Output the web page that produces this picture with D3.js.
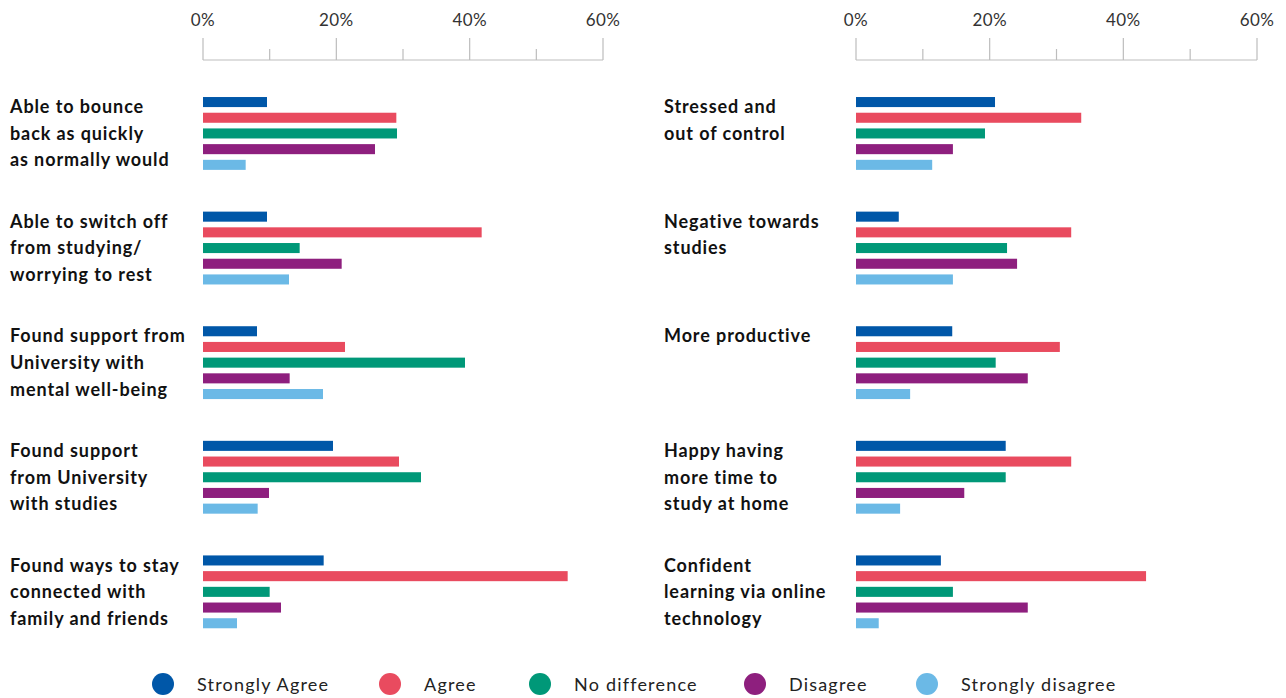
<!DOCTYPE html>
<html><head><meta charset="utf-8">
<script src="https://cdn.jsdelivr.net/npm/d3@7"></script>
<style>body{margin:0;background:#fff}svg{display:block}</style>
</head><body><svg id="c" width="1286" height="698"></svg>
<script>
const series = ["Strongly Agree","Agree","No difference","Disagree","Strongly disagree"];
const colors = ["#0057a8","#e94b5f","#009878","#8e1f7e","#6bb9e6"];
const tickValues = [0,10,20,30,40,50,60];
const tickLabels = ["0%","","20%","","40%","","60%"];

const leftCategories = [
  ["Able to bounce","back as quickly","as normally would"],
  ["Able to switch off","from studying/","worrying to rest"],
  ["Found support from","University with","mental well-being"],
  ["Found support","from University","with studies"],
  ["Found ways to stay","connected with","family and friends"]
];
const leftValues = [
  [9.6,29.0,29.1,25.8,6.4],
  [9.6,41.8,14.5,20.8,12.9],
  [8.1,21.3,39.3,13.0,18.0],
  [19.5,29.4,32.7,9.9,8.2],
  [18.1,54.7,10.0,11.7,5.1]
];
const rightCategories = [
  ["Stressed and","out of control"],
  ["Negative towards","studies"],
  ["More productive"],
  ["Happy having","more time to","study at home"],
  ["Confident","learning via online","technology"]
];
const rightValues = [
  [20.8,33.7,19.3,14.5,11.4],
  [6.4,32.2,22.6,24.1,14.5],
  [14.4,30.5,20.9,25.7,8.1],
  [22.4,32.2,22.4,16.2,6.6],
  [12.7,43.4,14.5,25.7,3.4]
];

const svg = d3.select("#c");
const font = "Lato, 'Open Sans', sans-serif";

const yGroup = d3.scaleBand().domain(d3.range(5)).range([94.2, 94.2 + 5*114.6]);
const yInner = d3.scaleBand().domain(series).range([0, 78.5]).paddingInner(0.36).paddingOuter(0.18);

function panel(cats, vals, x0, x1, labelX) {
  const x = d3.scaleLinear().domain([0,60]).range([x0, x1]);
  const g = svg.append("g");
  const ax = g.append("g").attr("transform","translate(0,60)");
  ax.append("line").attr("x1", x(0)).attr("x2", x(60)).attr("stroke","#bdbdbd").attr("stroke-width",1.2);
  ax.selectAll("line.t").data(tickValues).join("line").attr("class","t")
    .attr("x1", d=>x(d)).attr("x2", d=>x(d))
    .attr("y1", (d,i)=> i%2===0 ? -22 : -11).attr("y2", 0)
    .attr("stroke","#bdbdbd").attr("stroke-width",1.2);
  ax.selectAll("text").data(tickValues.filter((d,i)=>tickLabels[i])).join("text")
    .attr("x", d=>x(d)).attr("y", -34)
    .attr("text-anchor","middle").attr("font-family",font).attr("font-size",17)
    .attr("letter-spacing",0.4)
    .attr("fill","#333").text(d=>tickLabels[tickValues.indexOf(d)]);
  cats.forEach((lines, gi) => {
    const gy = yGroup(gi);
    g.selectAll(null).data(vals[gi]).join("rect")
      .attr("x", x(0)).attr("y", (d,i)=> gy + yInner(series[i]))
      .attr("width", d=> x(d) - x(0)).attr("height", yInner.bandwidth())
      .attr("fill", (d,i)=>colors[i]);
    const t = g.append("text").attr("font-family",font).attr("font-weight",700)
      .attr("font-size",18).attr("letter-spacing",0.9).attr("fill","#111");
    lines.forEach((ln, li) => {
      t.append("tspan").attr("x", labelX).attr("y", gy + 19 + li*26.6).text(ln);
    });
  });
}
panel(leftCategories, leftValues, 203, 603, 10);
panel(rightCategories, rightValues, 856, 1257, 664);

const legX = [163, 390, 540, 755, 927];
const leg = svg.append("g").attr("transform","translate(0,684)");
series.forEach((s,i)=>{
  leg.append("circle").attr("cx", legX[i]).attr("cy",0).attr("r",11).attr("fill",colors[i]);
  leg.append("text").attr("x", legX[i]+34).attr("y",6.5).attr("font-family",font)
    .attr("font-size",18).attr("letter-spacing",1.2).attr("fill","#222").text(s);
});
</script></body></html>
